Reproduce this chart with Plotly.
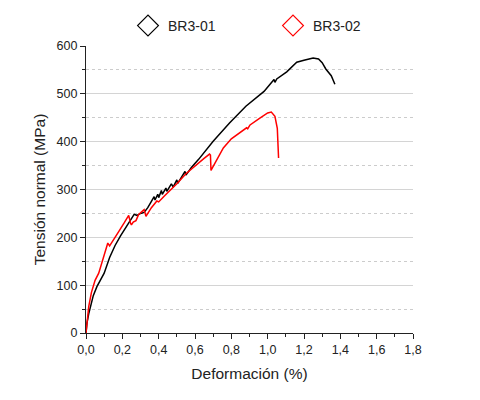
import plotly.graph_objects as go

br1_x = [0, 0.005, 0.015, 0.025, 0.04, 0.06, 0.08, 0.1, 0.13, 0.16, 0.19, 0.22, 0.25, 0.265, 0.28, 0.30, 0.32, 0.34, 0.36, 0.375, 0.38, 0.395, 0.40, 0.415, 0.42, 0.44, 0.445, 0.47, 0.48, 0.50, 0.505, 0.53, 0.545, 0.55, 0.58, 0.62, 0.70, 0.79, 0.88, 0.98, 1.035, 1.04, 1.05, 1.105, 1.16, 1.20, 1.25, 1.28, 1.30, 1.32, 1.35, 1.37]
br1_y = [0, 20, 40, 55, 78, 97, 110, 125, 158, 183, 203, 222, 240, 248, 246, 250, 252, 262, 275, 285, 278, 290, 283, 298, 290, 303, 296, 312, 305, 320, 313, 330, 338, 330, 346, 363, 401, 439, 474, 505, 530, 524, 531, 546, 566, 570, 575, 573, 565, 552, 538, 520]

br2_x = [0, 0.005, 0.015, 0.03, 0.05, 0.07, 0.09, 0.11, 0.12, 0.13, 0.15, 0.18, 0.21, 0.235, 0.245, 0.25, 0.26, 0.275, 0.29, 0.31, 0.32, 0.33, 0.335, 0.36, 0.39, 0.40, 0.43, 0.46, 0.50, 0.55, 0.60, 0.65, 0.68, 0.685, 0.688, 0.72, 0.756, 0.80, 0.866, 0.884, 0.89, 0.903, 0.957, 1.0, 1.02, 1.04, 1.053, 1.057, 1.06]
br2_y = [0, 25, 55, 85, 110, 125, 150, 175, 188, 182, 195, 212, 230, 246, 230, 226, 232, 235, 248, 255, 258, 244, 247, 262, 276, 274, 286, 297, 312, 333, 350, 365, 374, 372, 340, 362, 387, 406, 425, 429, 427, 435, 449, 460, 462, 453, 428, 401, 366]

names = ["BR3-01", "BR3-02"]
colors = ["#000000", "#ff0000"]

x_ticks = [0, 0.2, 0.4, 0.6, 0.8, 1.0, 1.2, 1.4, 1.6, 1.8]
x_labels = ["0,0", "0,2", "0,4", "0,6", "0,8", "1,0", "1,2", "1,4", "1,6", "1,8"]
y_ticks = [0, 100, 200, 300, 400, 500, 600]

fig = go.Figure()
for xs, ys, nm, c in [(br1_x, br1_y, names[0], colors[0]), (br2_x, br2_y, names[1], colors[1])]:
    fig.add_trace(go.Scatter(x=xs, y=ys, mode="lines", line=dict(color=c, width=1.5),
                             showlegend=False, name=nm))
    fig.add_trace(go.Scatter(x=[None], y=[None], mode="markers", name=nm,
                             marker=dict(symbol="diamond-open", size=17, color=c,
                                         line=dict(width=1.2, color=c))))

axis_font = dict(family="Liberation Sans, Arial", size=12.5, color="#222")
title_font = dict(family="Liberation Sans, Arial", size=15.5, color="#222")
fig.update_layout(
    width=480, height=400,
    margin=dict(l=78, r=75, t=38, b=75),
    paper_bgcolor="white", plot_bgcolor="white",
    font=dict(family="Liberation Sans, Arial", color="#222"),
    legend=dict(orientation="h", xref="container", yref="container",
                x=0.25, xanchor="left", y=0.955, yanchor="middle",
                font=dict(size=14, color="#222"), itemwidth=30, entrywidth=100,
                bgcolor="rgba(0,0,0,0)"),
    xaxis=dict(range=[0, 1.8], tickvals=x_ticks, ticktext=x_labels, tickfont=axis_font,
               automargin=False,
               showline=True, linecolor="#222", linewidth=1.2, ticks="outside", ticklen=5,
               tickcolor="#222", showgrid=False, zeroline=False,
               minor=dict(dtick=0.1, tick0=0, ticks="outside", ticklen=3, tickcolor="#222", showgrid=False),
               title=dict(text="Deformación (%)", font=title_font, standoff=12)),
    yaxis=dict(range=[0, 600], tickvals=y_ticks, tickfont=axis_font,
               automargin=False,
               showline=True, linecolor="#222", linewidth=1.2, ticks="outside", ticklen=5,
               tickcolor="#222", showgrid=True, gridcolor="#d4d4d4", gridwidth=1, zeroline=False,
               minor=dict(dtick=50, tick0=0, ticks="outside", ticklen=3, tickcolor="#222",
                          showgrid=True, gridcolor="#cccccc", griddash="dot", gridwidth=1),
               title=dict(text="Tensión normal (MPa)", font=title_font, standoff=7)),
)
fig.write_html("out.html")
